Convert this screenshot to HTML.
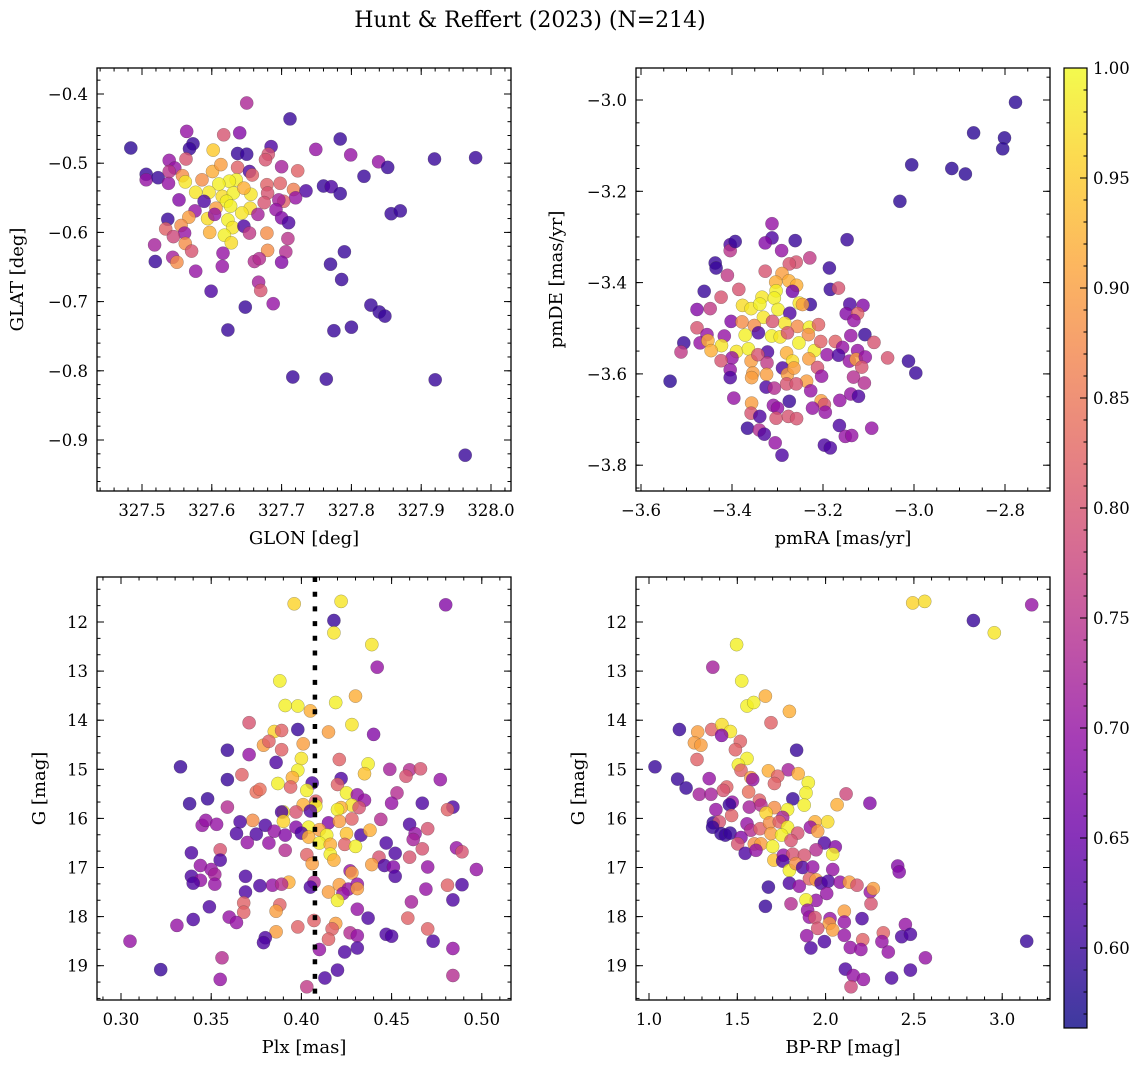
<!DOCTYPE html>
<html><head><meta charset="utf-8"><style>
html,body{margin:0;padding:0;background:#fff}
svg{display:block;font-family:"DejaVu Serif","Liberation Serif",serif}
</style></head><body>
<svg id="fig" width="1148" height="1067" viewBox="0 0 1148 1067" xmlns="http://www.w3.org/2000/svg">
<defs><linearGradient id="cbg" x1="0" y1="1" x2="0" y2="0"></linearGradient></defs>
<text x="530" y="27" font-size="22" text-anchor="middle">Hunt &amp; Reffert (2023) (N=214)</text>
<g id="root"></g>
</svg>
<script>
// ---------- data ----------
const glonX=[327.484,327.650,327.712,327.564,327.617,327.640,327.573,327.568,327.602,327.637,327.650,327.685,327.681,327.677,327.749,327.784,327.799,327.839,327.852,327.919,327.978,327.818,327.539,327.563,327.506,327.506,327.523,327.547,327.538,327.539,327.558,327.562,327.577,327.586,327.601,327.613,327.637,327.654,327.658,327.635,327.625,327.610,327.596,327.615,327.631,327.656,327.646,327.679,327.680,327.698,327.723,327.700,327.717,327.735,327.760,327.771,327.784,327.720,327.703,327.675,327.696,327.553,327.589,327.621,327.627,327.655,327.576,327.606,327.643,327.666,327.692,327.700,327.710,327.537,327.567,327.594,327.623,327.604,327.534,327.556,327.561,327.545,327.630,327.646,327.597,327.618,327.628,327.654,327.679,327.709,327.518,327.562,327.571,327.616,327.680,327.706,327.519,327.544,327.550,327.577,327.615,327.661,327.668,327.700,327.790,327.770,327.786,327.599,327.667,327.670,327.688,327.648,327.623,327.828,327.840,327.848,327.775,327.800,327.857,327.870,327.716,327.764,327.920,327.963];
const glatY=[-0.478,-0.413,-0.436,-0.454,-0.459,-0.456,-0.472,-0.479,-0.481,-0.486,-0.487,-0.476,-0.487,-0.495,-0.480,-0.465,-0.488,-0.498,-0.506,-0.494,-0.492,-0.519,-0.496,-0.494,-0.516,-0.524,-0.521,-0.507,-0.529,-0.512,-0.518,-0.527,-0.542,-0.524,-0.512,-0.502,-0.506,-0.512,-0.517,-0.524,-0.526,-0.530,-0.542,-0.548,-0.543,-0.545,-0.536,-0.531,-0.543,-0.529,-0.511,-0.505,-0.538,-0.540,-0.533,-0.534,-0.544,-0.550,-0.555,-0.557,-0.553,-0.553,-0.555,-0.555,-0.562,-0.565,-0.569,-0.565,-0.572,-0.574,-0.567,-0.579,-0.586,-0.581,-0.578,-0.580,-0.582,-0.574,-0.595,-0.590,-0.601,-0.606,-0.593,-0.591,-0.600,-0.604,-0.615,-0.601,-0.601,-0.609,-0.618,-0.616,-0.627,-0.630,-0.626,-0.628,-0.642,-0.636,-0.643,-0.656,-0.649,-0.642,-0.638,-0.643,-0.628,-0.646,-0.668,-0.685,-0.672,-0.684,-0.703,-0.708,-0.741,-0.705,-0.715,-0.721,-0.742,-0.737,-0.573,-0.569,-0.809,-0.812,-0.813,-0.922];
const cA=[0.59,0.73,0.60,0.70,0.80,0.68,0.60,0.60,0.95,0.60,0.60,0.62,0.80,0.80,0.70,0.60,0.70,0.70,0.60,0.60,0.60,0.60,0.70,0.80,0.60,0.70,0.60,0.70,0.70,0.75,0.88,0.98,0.98,0.88,0.92,0.90,0.82,0.62,0.82,0.99,0.99,0.99,0.98,0.97,0.99,0.98,0.92,0.82,0.80,0.82,0.82,0.72,0.86,0.62,0.60,0.62,0.60,0.70,0.82,0.80,0.72,0.68,0.62,0.99,0.99,0.97,0.70,0.90,0.98,0.72,0.70,0.68,0.62,0.60,0.90,0.97,0.99,0.70,0.82,0.88,0.70,0.78,0.98,0.62,0.92,0.99,0.97,0.76,0.88,0.75,0.72,0.88,0.80,0.70,0.88,0.74,0.60,0.72,0.88,0.70,0.70,0.74,0.74,0.68,0.60,0.60,0.60,0.62,0.72,0.80,0.70,0.60,0.60,0.60,0.60,0.60,0.60,0.60,0.60,0.60,0.60,0.60,0.60,0.60];

const pmraX=[-2.777,-2.869,-2.801,-2.805,-3.005,-2.917,-2.887,-3.031,-3.147,-3.312,-3.312,-3.327,-3.261,-3.291,-3.404,-3.404,-3.393,-3.229,-3.259,-3.274,-3.437,-3.435,-3.410,-3.327,-3.186,-3.290,-3.275,-3.461,-3.424,-3.385,-3.304,-3.258,-3.267,-3.184,-3.166,-3.303,-3.334,-3.307,-3.377,-3.358,-3.339,-3.252,-3.228,-3.245,-3.477,-3.448,-3.299,-3.273,-3.141,-3.112,-3.149,-3.124,-3.132,-3.331,-3.402,-3.477,-3.378,-3.351,-3.284,-3.256,-3.230,-3.210,-3.311,-3.342,-3.371,-3.313,-3.294,-3.278,-3.232,-3.455,-3.417,-3.506,-3.470,-3.453,-3.423,-3.446,-3.512,-3.390,-3.364,-3.322,-3.253,-3.219,-3.205,-3.173,-3.157,-3.139,-3.108,-3.088,-3.191,-3.166,-3.124,-3.058,-3.012,-2.996,-3.400,-3.424,-3.358,-3.343,-3.323,-3.280,-3.267,-3.231,-3.212,-3.142,-3.127,-3.107,-3.115,-3.404,-3.404,-3.354,-3.357,-3.324,-3.289,-3.278,-3.264,-3.203,-3.133,-3.109,-3.236,-3.536,-3.325,-3.307,-3.280,-3.259,-3.227,-3.396,-3.274,-3.204,-3.197,-3.163,-3.139,-3.122,-3.357,-3.358,-3.339,-3.309,-3.300,-3.303,-3.276,-3.258,-3.223,-3.195,-3.366,-3.340,-3.329,-3.164,-3.151,-3.137,-3.093,-3.305,-3.290,-3.197,-3.184];
const pmdeY=[-3.005,-3.072,-3.083,-3.107,-3.142,-3.150,-3.162,-3.222,-3.306,-3.271,-3.302,-3.313,-3.308,-3.330,-3.317,-3.330,-3.310,-3.346,-3.355,-3.359,-3.357,-3.368,-3.384,-3.375,-3.368,-3.380,-3.396,-3.419,-3.432,-3.415,-3.399,-3.406,-3.419,-3.415,-3.412,-3.418,-3.432,-3.434,-3.450,-3.457,-3.447,-3.445,-3.448,-3.448,-3.459,-3.457,-3.459,-3.467,-3.447,-3.450,-3.468,-3.468,-3.483,-3.476,-3.485,-3.499,-3.486,-3.494,-3.489,-3.496,-3.498,-3.492,-3.485,-3.510,-3.515,-3.517,-3.519,-3.510,-3.514,-3.514,-3.517,-3.532,-3.532,-3.527,-3.538,-3.549,-3.552,-3.551,-3.545,-3.552,-3.532,-3.549,-3.529,-3.529,-3.542,-3.516,-3.514,-3.531,-3.558,-3.559,-3.549,-3.565,-3.572,-3.598,-3.565,-3.571,-3.572,-3.558,-3.576,-3.554,-3.572,-3.567,-3.586,-3.572,-3.568,-3.563,-3.585,-3.591,-3.608,-3.598,-3.608,-3.601,-3.587,-3.601,-3.587,-3.605,-3.607,-3.620,-3.616,-3.616,-3.629,-3.631,-3.622,-3.622,-3.637,-3.653,-3.660,-3.659,-3.667,-3.658,-3.644,-3.649,-3.664,-3.686,-3.693,-3.669,-3.675,-3.697,-3.693,-3.698,-3.675,-3.684,-3.719,-3.723,-3.732,-3.713,-3.737,-3.735,-3.719,-3.751,-3.778,-3.756,-3.762];
const cB=[0.59,0.59,0.59,0.59,0.59,0.59,0.59,0.59,0.60,0.70,0.62,0.68,0.60,0.70,0.62,0.75,0.60,0.76,0.80,0.80,0.60,0.60,0.76,0.80,0.60,0.90,0.92,0.60,0.80,0.80,0.92,0.92,0.66,0.60,0.80,0.99,0.98,0.99,0.97,0.98,0.99,0.98,0.60,0.90,0.68,0.76,0.99,0.62,0.62,0.68,0.68,0.82,0.70,0.98,0.68,0.80,0.88,0.88,0.98,0.88,0.99,0.82,0.80,0.62,0.99,0.99,0.98,0.80,0.88,0.70,0.70,0.60,0.70,0.92,0.98,0.92,0.76,0.98,0.99,0.62,0.99,0.99,0.82,0.82,0.70,0.70,0.60,0.80,0.70,0.62,0.70,0.80,0.60,0.60,0.70,0.80,0.90,0.80,0.76,0.92,0.97,0.90,0.80,0.70,0.90,0.70,0.80,0.70,0.62,0.90,0.90,0.90,0.62,0.90,0.90,0.70,0.74,0.74,0.90,0.59,0.62,0.74,0.80,0.80,0.70,0.70,0.60,0.90,0.80,0.70,0.70,0.62,0.90,0.80,0.62,0.70,0.70,0.80,0.80,0.80,0.70,0.70,0.60,0.74,0.62,0.62,0.70,0.70,0.70,0.70,0.62,0.62,0.62];

const plxX=[0.396,0.422,0.480,0.418,0.418,0.439,0.442,0.388,0.391,0.398,0.405,0.419,0.430,0.371,0.398,0.385,0.389,0.415,0.428,0.440,0.379,0.382,0.401,0.359,0.371,0.389,0.386,0.400,0.398,0.421,0.437,0.435,0.333,0.367,0.359,0.395,0.394,0.387,0.406,0.422,0.420,0.449,0.460,0.466,0.458,0.477,0.375,0.377,0.403,0.408,0.425,0.431,0.435,0.453,0.338,0.348,0.359,0.401,0.408,0.428,0.422,0.432,0.450,0.467,0.484,0.481,0.397,0.390,0.389,0.405,0.420,0.373,0.390,0.415,0.421,0.428,0.444,0.345,0.347,0.353,0.366,0.380,0.397,0.404,0.410,0.460,0.470,0.364,0.375,0.385,0.391,0.400,0.404,0.414,0.425,0.433,0.438,0.463,0.462,0.410,0.416,0.424,0.430,0.370,0.382,0.447,0.486,0.489,0.339,0.355,0.391,0.403,0.416,0.418,0.443,0.452,0.460,0.467,0.355,0.406,0.439,0.446,0.451,0.470,0.497,0.344,0.350,0.352,0.339,0.344,0.340,0.352,0.369,0.427,0.428,0.407,0.393,0.384,0.389,0.377,0.421,0.426,0.431,0.452,0.489,0.481,0.369,0.405,0.415,0.423,0.431,0.469,0.420,0.368,0.388,0.461,0.484,0.349,0.368,0.386,0.431,0.360,0.364,0.340,0.407,0.437,0.459,0.331,0.398,0.419,0.417,0.386,0.427,0.431,0.470,0.447,0.450,0.305,0.380,0.379,0.415,0.473,0.484,0.410,0.424,0.431,0.356,0.322,0.355,0.413,0.420,0.403,0.484];
const gA=[11.63,11.58,11.65,11.97,12.22,12.46,12.92,13.20,13.70,13.71,13.81,13.64,13.51,14.05,14.19,14.23,14.21,14.24,14.09,14.29,14.51,14.43,14.48,14.61,14.70,14.60,14.86,14.78,15.02,14.80,14.89,15.09,14.95,15.11,15.21,15.17,15.36,15.29,15.28,15.19,15.31,15.00,15.01,14.99,15.14,15.21,15.46,15.41,15.43,15.65,15.48,15.52,15.63,15.48,15.70,15.60,15.77,15.72,15.75,15.73,15.78,15.78,15.69,15.69,15.77,15.82,15.87,15.87,15.87,15.85,15.82,16.04,16.06,16.09,16.06,16.01,16.02,16.14,16.04,16.12,16.07,16.14,16.18,16.18,16.23,16.12,16.21,16.31,16.32,16.26,16.34,16.30,16.38,16.34,16.31,16.34,16.24,16.31,16.43,16.50,16.53,16.53,16.57,16.49,16.50,16.50,16.60,16.68,16.70,16.64,16.65,16.74,16.73,16.85,16.79,16.71,16.79,16.62,16.85,16.92,16.94,16.96,16.99,16.99,17.04,16.96,17.04,17.14,17.18,17.26,17.32,17.34,17.18,17.07,17.11,17.30,17.30,17.36,17.34,17.37,17.35,17.44,17.34,17.18,17.35,17.36,17.50,17.40,17.50,17.53,17.43,17.44,17.67,17.72,17.76,17.70,17.66,17.80,17.91,17.89,17.85,18.01,18.12,18.06,18.08,18.03,18.03,18.18,18.21,18.14,18.25,18.31,18.33,18.39,18.25,18.36,18.40,18.50,18.43,18.53,18.46,18.50,18.65,18.67,18.72,18.64,18.84,19.08,19.28,19.25,19.09,19.43,19.20];
const cC=[0.96,0.98,0.68,0.60,0.98,0.98,0.70,0.99,0.99,0.99,0.92,0.99,0.92,0.80,0.60,0.96,0.82,0.90,0.98,0.68,0.90,0.82,0.90,0.60,0.70,0.82,0.62,0.98,0.99,0.82,0.99,0.94,0.60,0.82,0.60,0.92,0.82,0.99,0.62,0.62,0.82,0.72,0.74,0.80,0.80,0.70,0.84,0.84,0.99,0.82,0.99,0.70,0.70,0.74,0.60,0.60,0.74,0.92,0.99,0.98,0.92,0.80,0.70,0.62,0.62,0.82,0.80,0.98,0.62,0.62,0.99,0.88,0.96,0.68,0.90,0.82,0.74,0.70,0.70,0.70,0.62,0.62,0.68,0.99,0.90,0.62,0.80,0.62,0.62,0.70,0.68,0.62,0.92,0.99,0.94,0.62,0.92,0.70,0.72,0.99,0.92,0.82,0.99,0.70,0.70,0.62,0.70,0.80,0.62,0.80,0.74,0.82,0.99,0.92,0.80,0.62,0.80,0.80,0.62,0.90,0.90,0.62,0.68,0.70,0.70,0.70,0.70,0.72,0.62,0.70,0.62,0.70,0.62,0.70,0.90,0.74,0.92,0.70,0.74,0.62,0.90,0.70,0.70,0.62,0.62,0.82,0.62,0.62,0.90,0.70,0.90,0.70,0.99,0.82,0.82,0.72,0.62,0.62,0.82,0.90,0.70,0.70,0.70,0.62,0.82,0.62,0.82,0.70,0.82,0.90,0.82,0.90,0.74,0.70,0.82,0.62,0.62,0.70,0.62,0.62,0.82,0.62,0.70,0.70,0.62,0.62,0.74,0.60,0.70,0.62,0.62,0.76,0.74];

const bprpX=[2.493,2.561,3.167,2.837,2.955,1.496,1.361,1.525,1.555,1.593,1.659,1.795,1.691,1.172,1.276,1.355,1.413,1.461,1.411,1.257,1.294,1.517,1.489,1.272,1.555,1.506,1.836,1.034,1.521,1.676,1.789,1.845,1.577,1.587,1.729,1.902,1.889,1.162,1.341,1.210,1.440,1.710,1.421,1.564,1.285,1.351,2.116,1.814,1.785,1.879,2.065,2.251,1.379,1.471,1.455,1.625,1.568,1.634,1.710,1.468,1.663,1.757,1.940,2.012,1.364,1.398,1.360,1.408,1.432,1.459,1.555,1.577,1.629,1.683,1.738,1.785,1.842,1.914,1.955,1.521,1.502,1.596,1.634,1.691,1.751,1.700,1.804,1.993,2.055,1.545,1.606,1.707,1.761,1.814,1.880,1.946,2.040,1.757,1.795,1.832,1.870,1.927,2.040,2.408,2.417,1.676,1.795,1.851,1.908,1.946,1.974,2.015,2.082,2.134,2.178,2.253,2.270,2.257,2.006,1.946,1.659,1.804,1.889,1.898,1.908,1.940,2.025,2.021,2.040,2.106,2.106,2.206,1.955,1.893,1.993,2.106,2.210,2.327,2.319,2.452,2.431,2.480,3.139,1.917,2.140,2.200,2.355,2.565,2.112,2.157,2.214,2.144,2.374,2.480];
const gB=[11.61,11.58,11.65,11.97,12.22,12.46,12.92,13.20,13.71,13.64,13.51,13.82,14.05,14.19,14.24,14.19,14.09,14.23,14.31,14.46,14.51,14.43,14.60,14.80,14.78,14.91,14.61,14.95,15.02,15.03,15.01,15.09,15.17,15.21,15.14,15.27,15.48,15.20,15.19,15.38,15.36,15.29,15.43,15.46,15.51,15.51,15.50,15.60,15.82,15.73,15.72,15.69,15.82,15.67,15.72,15.63,15.77,15.73,15.78,15.94,15.89,15.98,16.07,16.07,16.09,16.07,16.18,16.31,16.34,16.30,16.11,16.24,16.21,16.09,16.07,16.18,16.30,16.18,16.26,16.39,16.52,16.52,16.52,16.31,16.34,16.57,16.45,16.50,16.58,16.71,16.65,16.85,16.75,16.73,16.75,16.64,16.73,16.87,17.06,16.92,17.00,16.99,17.04,16.97,17.09,17.40,17.32,17.38,17.23,17.25,17.32,17.28,17.30,17.30,17.36,17.50,17.43,17.74,17.53,17.67,17.79,17.74,17.66,17.87,18.01,18.02,18.04,18.14,18.27,17.89,18.11,18.04,18.24,18.39,18.51,18.38,18.47,18.33,18.51,18.16,18.41,18.36,18.50,18.64,18.63,18.67,18.72,18.84,19.07,19.20,19.28,19.43,19.25,19.09];
const cD=[0.96,0.97,0.70,0.60,0.98,0.99,0.72,0.99,0.99,0.99,0.92,0.92,0.82,0.60,0.90,0.82,0.97,0.98,0.68,0.90,0.90,0.82,0.82,0.82,0.99,0.99,0.60,0.60,0.82,0.92,0.72,0.92,0.90,0.70,0.82,0.99,0.99,0.60,0.70,0.60,0.82,0.82,0.80,0.84,0.72,0.72,0.78,0.60,0.99,0.99,0.92,0.68,0.70,0.70,0.60,0.82,0.72,0.74,0.88,0.82,0.96,0.72,0.92,0.97,0.60,0.80,0.60,0.60,0.60,0.60,0.70,0.74,0.82,0.88,0.82,0.99,0.80,0.70,0.90,0.68,0.80,0.88,0.90,0.90,0.99,0.99,0.80,0.62,0.68,0.62,0.70,0.94,0.70,0.80,0.80,0.74,0.99,0.62,0.99,0.88,0.62,0.70,0.70,0.68,0.68,0.60,0.62,0.70,0.82,0.90,0.62,0.62,0.70,0.90,0.80,0.70,0.90,0.80,0.70,0.70,0.60,0.74,0.99,0.70,0.70,0.80,0.70,0.90,0.90,0.90,0.70,0.62,0.80,0.70,0.62,0.70,0.82,0.82,0.70,0.70,0.62,0.62,0.60,0.62,0.70,0.70,0.70,0.70,0.62,0.70,0.70,0.78,0.62,0.62];

// ---------- helpers ----------
const NS="http://www.w3.org/2000/svg";
const root=document.getElementById('root');
const VMIN=0.5645,VMAX=1.0;
const PL=[[0,13,8,135],[0.1,65,4,157],[0.2,106,0,168],[0.3,143,13,164],[0.4,177,42,144],[0.5,204,71,120],[0.6,225,100,98],[0.7,242,132,75],[0.8,252,166,54],[0.9,252,206,37],[1,240,249,33]];
function plasma(t){t=Math.max(0,Math.min(1,t));for(let i=1;i<PL.length;i++){if(t<=PL[i][0]){const a=PL[i-1],b=PL[i],f=(t-a[0])/(b[0]-a[0]);return `rgb(${Math.round(a[1]+f*(b[1]-a[1]))},${Math.round(a[2]+f*(b[2]-a[2]))},${Math.round(a[3]+f*(b[3]-a[3]))})`;}}return 'rgb(240,249,33)';}
function mk(tag,attrs,parent){const e=document.createElementNS(NS,tag);for(const k in attrs)e.setAttribute(k,attrs[k]);(parent||root).appendChild(e);return e;}
function fmt(v,d){return v.toFixed(d).replace('-','\u2212');}

const panels=[
 {id:'glon-glat',L:97,R:511,T:68,B:491,xs:v=>142+(v-327.5)*698,ys:v=>94+(-0.4-v)*692,
  xmaj:[327.5,327.6,327.7,327.8,327.9,328.0],xd:1,xminor:0.02,xlo:327.43,xhi:328.03,
  ymaj:[-0.4,-0.5,-0.6,-0.7,-0.8,-0.9],yd:1,yminor:0.02,ylo:-0.98,yhi:-0.35,
  xl:'GLON [deg]',yl:'GLAT [deg]',X:glonX,Y:glatY,C:cA},
 {id:'pmra-pmde',L:636,R:1050,T:68,B:491,xs:v=>641+(v+3.6)*455,ys:v=>100+(-3.0-v)*456.5,
  xmaj:[-3.6,-3.4,-3.2,-3.0,-2.8],xd:1,xminor:0.05,xlo:-3.62,xhi:-2.68,
  ymaj:[-3.0,-3.2,-3.4,-3.6,-3.8],yd:1,yminor:0.05,ylo:-3.86,yhi:-2.92,
  xl:'pmRA [mas/yr]',yl:'pmDE [mas/yr]',X:pmraX,Y:pmdeY,C:cB},
 {id:'plx-g',L:97,R:511,T:577,B:1000,xs:v=>121+(v-0.30)*1804,ys:v=>622+(v-12)*49.1,
  xmaj:[0.30,0.35,0.40,0.45,0.50],xd:2,xminor:0.01,xlo:0.28,xhi:0.52,
  ymaj:[12,13,14,15,16,17,18,19],yd:0,yminor:1/3,ylo:11,yhi:19.8,
  xl:'Plx [mas]',yl:'G [mag]',X:plxX,Y:gA,C:cC},
 {id:'bprp-g',L:636,R:1050,T:577,B:1000,xs:v=>649+(v-1.0)*176.6,ys:v=>622+(v-12)*49.1,
  xmaj:[1.0,1.5,2.0,2.5,3.0],xd:1,xminor:0.1,xlo:0.9,xhi:3.4,
  ymaj:[12,13,14,15,16,17,18,19],yd:0,yminor:1/3,ylo:11,yhi:19.8,
  xl:'BP-RP [mag]',yl:'G [mag]',X:bprpX,Y:gB,C:cD}
];

panels.forEach(p=>{
  const g=mk('g',{});
  
  
  const clipId='clip-'+p.id;
  const cp=mk('clipPath',{id:clipId},g);mk('rect',{x:p.L,y:p.T,width:p.R-p.L,height:p.B-p.T},cp);
  const pts=mk('g',{'clip-path':`url(#${clipId})`},g);
  
  
  for(let i=0;i<p.X.length;i++){
    const c=mk('circle',{cx:p.xs(p.X[i]).toFixed(1),cy:p.ys(p.Y[i]).toFixed(1),r:6.6,fill:plasma((p.C[i]-VMIN)/(VMAX-VMIN)),'fill-opacity':0.8,stroke:'rgba(60,60,60,0.45)','stroke-width':0.5},pts);
    
    
  }
  if(p.id==='plx-g'){
    const x=p.xs(0.4075);
    const ln=mk('line',{x1:x,y1:p.T,x2:x,y2:p.B,stroke:'#000','stroke-width':4.5,'stroke-dasharray':'5 9.7'},g);
    
    
  }
  const fr=mk('rect',{x:p.L,y:p.T,width:p.R-p.L,height:p.B-p.T,fill:'none',stroke:'#000','stroke-width':1.3},g);
  
  
  const tk=mk('g',{stroke:'#000','stroke-width':1},g);
  
  
  for(let v=Math.ceil(p.xlo/p.xminor)*p.xminor;v<=p.xhi;v+=p.xminor){const x=p.xs(v);if(x<p.L+1||x>p.R-1)continue;
    mk('line',{x1:x,y1:p.B,x2:x,y2:p.B-3.5},tk);mk('line',{x1:x,y1:p.T,x2:x,y2:p.T+3.5},tk);}
  for(let v=Math.ceil(p.ylo/p.yminor)*p.yminor;v<=p.yhi;v+=p.yminor){const y=p.ys(v);if(y<p.T+1||y>p.B-1)continue;
    mk('line',{x1:p.L,y1:y,x2:p.L+3.5,y2:y},tk);mk('line',{x1:p.R,y1:y,x2:p.R-3.5,y2:y},tk);}
  p.xmaj.forEach(v=>{const x=p.xs(v);
    mk('line',{x1:x,y1:p.B,x2:x,y2:p.B-7},tk);mk('line',{x1:x,y1:p.T,x2:x,y2:p.T+7},tk);
    const t=mk('text',{x:x,y:p.B+25,'font-size':16.5,'text-anchor':'middle'},g);t.textContent=fmt(v,p.xd);
    
    });
  p.ymaj.forEach(v=>{const y=p.ys(v);
    mk('line',{x1:p.L,y1:y,x2:p.L+7,y2:y},tk);mk('line',{x1:p.R,y1:y,x2:p.R-7,y2:y},tk);
    const t=mk('text',{x:p.L-9,y:y+6,'font-size':16.5,'text-anchor':'end'},g);t.textContent=fmt(v,p.yd);
    
    });
  const xt=mk('text',{x:(p.L+p.R)/2,y:p.B+53,'font-size':18,'text-anchor':'middle'},g);xt.textContent=p.xl;
  
  
  const yx=p.L-(p.yd===0?52:74), yc=(p.T+p.B)/2;
  const yt=mk('text',{x:yx,y:yc,'font-size':18,'text-anchor':'middle',transform:`rotate(-90 ${yx} ${yc})`},g);yt.textContent=p.yl;
  
  
});

// colorbar
const grad=document.getElementById('cbg');
for(let i=0;i<=10;i++){mk('stop',{offset:(i/10),'stop-color':plasma(i/10),'stop-opacity':0.8},grad);}
const cb=mk('g',{});


const CT=68,CB=1028,CL=1064,CR=1087;
const cy=v=>CT+(1-v)*2200;
mk('rect',{x:CL,y:CT,width:CR-CL,height:CB-CT,fill:'url(#cbg)',stroke:'#000','stroke-width':1.2},cb);
const cbTicks=[0.60,0.65,0.70,0.75,0.80,0.85,0.90,0.95,1.00];
for(let v=0.57;v<=1.0001;v+=0.01){const y=cy(v);if(y>CB)continue;mk('line',{x1:CR,y1:y,x2:CR-3.5,y2:y,stroke:'#000','stroke-width':1},cb);}
cbTicks.forEach(v=>{const y=cy(v);mk('line',{x1:CR,y1:y,x2:CR-7,y2:y,stroke:'#000','stroke-width':1},cb);
  const t=mk('text',{x:CR+6,y:y+6,'font-size':16.5},cb);t.textContent=v.toFixed(2);
  
  });
</script>
</body></html>
